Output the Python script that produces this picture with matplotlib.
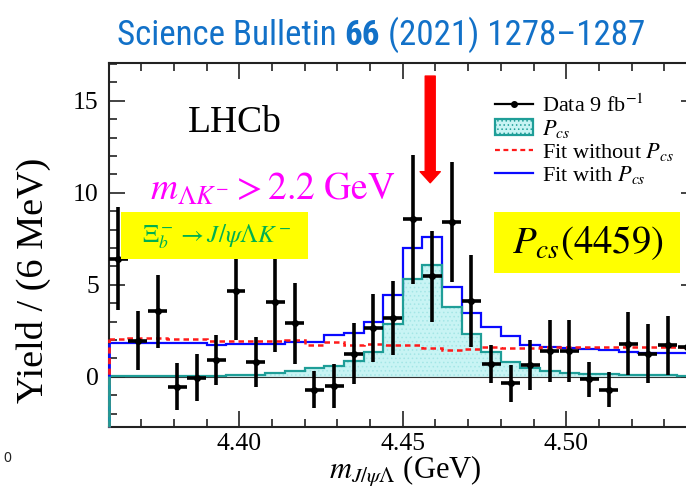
import numpy as np
import matplotlib
matplotlib.use("Agg")
import matplotlib.pyplot as plt
from matplotlib import font_manager as fm
from matplotlib.lines import Line2D
from matplotlib.patches import Patch, Rectangle
from matplotlib.ticker import MultipleLocator, FormatStrFormatter

# ---- data: J/psi Lambda invariant mass, 6 MeV bins from 4.360 to 4.540 GeV ----
bin_edges = np.round(np.linspace(4.360, 4.540, 31), 3)
bin_centers = 0.5 * (bin_edges[:-1] + bin_edges[1:])

data_yield = [6.4, 1.95, 3.55, -0.55, -0.05, 0.9, 4.65, 0.8, 4.05, 2.9,
              -0.7, -0.5, 1.25, 2.65, 3.2, 8.55, 5.45, 8.4, 4.1, 0.7,
              -0.35, 0.65, 1.4, 1.4, -0.15, -0.7, 1.8, 1.25, 1.7, 1.6]
data_err = [2.8, 1.6, 2.0, 1.27, 1.27, 1.36, 2.65, 1.36, 2.7, 2.2,
            1.0, 1.2, 1.65, 1.85, 2.0, 3.5, 2.45, 3.25, 2.5, 1.05,
            1.0, 1.36, 1.68, 1.7, 0.97, 0.95, 1.7, 1.6, 1.6, 1.6]

fit_with_pcs = [1.81, 1.81, 1.81, 1.83, 1.83, 1.70, 1.78, 1.78, 1.78, 1.90,
                1.90, 2.25, 2.40, 3.00, 4.46, 7.00, 7.60, 4.89, 3.45, 2.70,
                2.20, 1.72, 1.60, 1.55, 1.50, 1.45, 1.32, 1.30, 1.28, 1.28]
fit_without_pcs = [2.05, 2.08, 2.08, 2.05, 2.05, 1.95, 1.95, 1.95, 1.95, 1.98,
                   1.72, 1.90, 1.75, 1.78, 1.72, 1.72, 1.58, 1.45, 1.48, 1.60,
                   1.56, 1.56, 1.60, 1.60, 1.60, 1.60, 1.60, 1.62, 1.62, 1.62]
pcs_component = [0.02, 0.03, 0.03, 0.04, 0.05, 0.06, 0.08, 0.10, 0.18, 0.33,
                 0.46, 0.58, 0.85, 1.36, 2.85, 5.29, 6.07, 3.80, 2.30, 1.36,
                 0.82, 0.46, 0.30, 0.20, 0.16, 0.13, 0.10, 0.08, 0.07, 0.06]

pcs_mass = 4.4584          # GeV, P_cs(4459) position marked by the arrow
x_ticks = [4.40, 4.45, 4.50]
y_ticks = [0, 5, 10, 15]

# ---- style ----
SERIF = "Liberation Serif"
plt.rcParams["font.family"] = "serif"
plt.rcParams["font.serif"] = [SERIF, "DejaVu Serif"]
plt.rcParams["mathtext.fontset"] = "stix"
plt.rcParams["hatch.linewidth"] = 0.6

C_BLUE = "#0a0aff"
C_RED = "#ff1a1a"
C_TEAL = "#1f9e98"
C_FILL = "#c8f4f4"
C_HATCH = "#a4e6e6"

W, H = 686, 492
fig = plt.figure(figsize=(W / 100, H / 100), dpi=100)


def fig_rect(left, top, right, bottom):
    return [left / W, 1 - bottom / H, (right - left) / W, (bottom - top) / H]


ax = fig.add_axes(fig_rect(108.5, 63, 697, 427.3))
ax.set_xlim(bin_edges[0], bin_edges[-1])
ylo, yhi = -2.75, 17.05
ax.set_ylim(ylo, yhi)

# P_cs component (filled) and its outline
ax.stairs(pcs_component, bin_edges, baseline=0, fill=True,
          facecolor=C_FILL, edgecolor=C_HATCH, linewidth=0, hatch="....", zorder=1)
ax.axhline(0, color="#333333", lw=0.8, zorder=1.5)
ax.stairs(fit_with_pcs, bin_edges, baseline=None, color=C_BLUE, lw=1.6, zorder=2)
ax.stairs(fit_without_pcs, bin_edges, baseline=None, color=C_RED, lw=1.8,
          linestyle=(0, (2.2, 1.6)), zorder=2.1)
ax.stairs(pcs_component, bin_edges, baseline=None, color=C_TEAL, lw=1.6, zorder=2.2)

# first-edge risers of the histograms (drawn from the frame bottom)
ax.vlines(bin_edges[0], ylo, fit_with_pcs[0], color=C_BLUE, lw=2.0, clip_on=False, zorder=3)
ax.vlines(bin_edges[0], ylo, fit_without_pcs[0], color=C_RED, lw=2.0,
          linestyles=[(0, (2.2, 1.6))], clip_on=False, zorder=3.1)
ax.vlines(bin_edges[0], ylo, pcs_component[0], color=C_TEAL, lw=2.0, clip_on=False, zorder=3.2)

# data points
ax.errorbar(bin_centers, data_yield, yerr=data_err, xerr=0.0029, fmt="o",
            ms=4, color="black", elinewidth=2.6, capsize=0, zorder=4)

# arrow at the P_cs(4459) mass
ax.annotate("", xy=(pcs_mass, 10.54), xytext=(pcs_mass, 16.34),
            arrowprops=dict(arrowstyle="simple,head_length=0.8,head_width=1.45,tail_width=0.72",
                            color="#ff0000", mutation_scale=10, shrinkA=0, shrinkB=0),
            zorder=5)

# axes, ticks
for sp in ax.spines.values():
    sp.set_linewidth(1.5)
    sp.set_color("#222222")
ax.set_xticks(x_ticks)
ax.set_yticks(y_ticks)
ax.xaxis.set_minor_locator(MultipleLocator(0.01))
ax.yaxis.set_minor_locator(MultipleLocator(1))
ax.xaxis.set_major_formatter(FormatStrFormatter("%.2f"))
ax.yaxis.set_major_formatter(FormatStrFormatter("%d"))
ax.tick_params(which="both", direction="in", top=True, right=True, width=1.2, color="#222222")
ax.tick_params(which="major", length=11.5, labelsize=18.5)
ax.tick_params(which="minor", length=5.8)
ax.tick_params(axis="x", pad=4)
ax.tick_params(axis="y", pad=7)
for lbl in ax.get_xticklabels() + ax.get_yticklabels():
    lbl.set_fontfamily(SERIF)

ax.set_xlabel(r"$m_{J/\psi\Lambda}$ (GeV)", fontsize=22, ha="center", va="center")
ax.xaxis.set_label_coords(0.505, -0.12)
ax.set_ylabel("Yield / (6 MeV)", fontsize=27.5, ha="center", va="center")
ax.yaxis.set_label_coords(-0.128, 0.404)

# legend
h_data = Line2D([], [], color="black", marker="o", ms=4, lw=1.6)
h_pcs = Patch(facecolor=C_FILL, edgecolor=C_TEAL, hatch="....", lw=1.6)
h_wo = Line2D([], [], color=C_RED, lw=1.6, linestyle=(0, (2.2, 1.6)))
h_w = Line2D([], [], color=C_BLUE, lw=1.6)
fig.legend([h_data, h_pcs, h_wo, h_w],
           [r"Data 9 fb$^{-1}$", r"$P_{cs}$", r"Fit without $P_{cs}$", r"Fit with $P_{cs}$"],
           loc="upper left", bbox_to_anchor=(495 / W, 1 - 94 / H), frameon=False,
           fontsize=16, handlelength=1.7, handletextpad=0.4, labelspacing=0.05,
           borderpad=0, borderaxespad=0)

# text annotations
fig.text(188 / W, 1 - 132 / H, "LHCb", fontsize=27, va="baseline", ha="left")
fig.text(150 / W, 1 - 200 / H, r"$m_{\Lambda K^{-}} > 2.2\ \mathrm{GeV}$",
         fontsize=27, color="#ff00ff", va="baseline", ha="left")

fig.add_artist(Rectangle((121 / W, 1 - 259 / H), (308 - 121) / W, (259 - 212) / H,
                         transform=fig.transFigure, facecolor="#ffff00", edgecolor="none", zorder=6))
fig.text(217 / W, 1 - 237 / H, r"$\Xi_b^- \rightarrow J/\psi\Lambda K^-$",
         fontsize=18, color="#00b050", ha="center", va="center", zorder=7)

fig.add_artist(Rectangle((494 / W, 1 - 273 / H), (680 - 494) / W, (273 - 212) / H,
                         transform=fig.transFigure, facecolor="#ffff00", edgecolor="none", zorder=6))
fig.text(588 / W, 1 - 243 / H, r"$P_{cs}\mathrm{(4459)}$", fontsize=28, color="black",
         ha="center", va="center", zorder=7)

fig.text(3 / W, 1 - 459 / H, "0", fontsize=10, family="Noto Sans", color="#222222",
         ha="left", va="center")


# journal reference line, blue with bold volume number
def first_font(cands):
    for c in cands:
        try:
            fm.findfont(fm.FontProperties(family=c), fallback_to_default=False)
            return c
        except ValueError:
            continue
    return "DejaVu Sans"


head_font = first_font(["Liberation Sans Narrow", "Roboto Condensed", "Open Sans Condensed",
                        "Noto Sans CJK SC", "Lato"])
parts = [("Science Bulletin", "normal"), ("66", "bold"), ("(2021) 1278\u20131287", "normal")]
renderer = fig.canvas.get_renderer()


def layout_header(size, x0, y0):
    arts = []
    x = x0
    probe = fig.text(0, 0, "x x", fontsize=size, family=head_font)
    probe2 = fig.text(0, 0, "xx", fontsize=size, family=head_font)
    gap = (probe.get_window_extent(renderer).width - probe2.get_window_extent(renderer).width)
    probe.remove()
    probe2.remove()
    for txt, wt in parts:
        t = fig.text(x / W, 1 - y0 / H, txt, fontsize=size, family=head_font, weight=wt,
                     color="#1271c8", ha="left", va="baseline")
        w = t.get_window_extent(renderer).width
        arts.append(t)
        x += w + gap
    return arts, x - gap - x0


arts, total = layout_header(20, 117, 45)
for a in arts:
    a.remove()
size = 20 * 528 / total
layout_header(size, 117, 45)

fig.savefig("out.png", dpi=100)
